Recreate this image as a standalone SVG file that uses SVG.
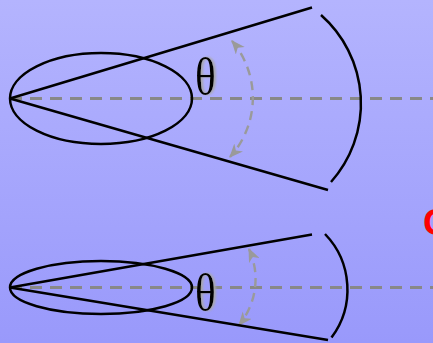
<svg xmlns="http://www.w3.org/2000/svg" width="433" height="343" viewBox="0 0 433 343">
<defs>
<linearGradient id="bg" x1="0" y1="0" x2="0" y2="1">
<stop offset="0" stop-color="#b4b4fe"/>
<stop offset="1" stop-color="#9999fb"/>
</linearGradient>
<marker id="ah" viewBox="0 0 12 10" refX="11" refY="5" markerWidth="14" markerHeight="12" markerUnits="userSpaceOnUse" orient="auto-start-reverse">
<path d="M0,0 L12,5 L0,10 L3.5,5 Z" fill="#9a9a9a"/>
</marker>
<filter id="shadow" x="-30%" y="-30%" width="160%" height="160%">
<feGaussianBlur in="SourceAlpha" stdDeviation="1.3" result="b"/>
<feOffset in="b" dx="3" dy="0" result="o"/>
<feFlood flood-color="#a8a8a8"/>
<feComposite in2="o" operator="in" result="s"/>
<feMerge><feMergeNode in="s"/><feMergeNode in="SourceGraphic"/></feMerge>
</filter>
<style>
.ln{fill:none;stroke:#000;stroke-width:2.5}
.axis{fill:none;stroke:#888;stroke-width:2.8;stroke-dasharray:12,8}
.ang{fill:none;stroke:#9a9a9a;stroke-width:2.4;stroke-dasharray:9,6}
.th{font-family:"Liberation Serif","DejaVu Serif",serif;font-size:53px;fill:#000;filter:url(#shadow)}
</style>
</defs>
<rect x="0" y="0" width="433" height="343" fill="url(#bg)"/>
<g id="connectors">
<line class="axis" x1="10" y1="98.5" x2="433" y2="98.5"/>
<line class="axis" x1="10" y1="287.5" x2="433" y2="287.5"/>
<path class="ang" d="M232 41 A88 88 0 0 1 230 157" marker-start="url(#ah)" marker-end="url(#ah)"/>
<path class="ang" d="M249 249 A72 72 0 0 1 239 325" marker-start="url(#ah)" marker-end="url(#ah)"/>
</g>
<g id="wide-lobe">
<ellipse class="ln" cx="101" cy="98.5" rx="91" ry="45.5"/>
<line class="ln" x1="10" y1="98.5" x2="312" y2="7.5"/>
<line class="ln" x1="10" y1="98.5" x2="328" y2="190"/>
<path class="ln" d="M321 15 A118 118 0 0 1 331 182"/>
<text class="th" transform="translate(195,93.5) scale(0.82,1)">θ</text>
</g>
<g id="narrow-lobe">
<ellipse class="ln" cx="101" cy="287.5" rx="91" ry="26.5"/>
<line class="ln" x1="10" y1="287.5" x2="312" y2="234.5"/>
<line class="ln" x1="10" y1="287.5" x2="328" y2="340"/>
<path class="ln" d="M325 234 A80 80 0 0 1 331.5 337.5"/>
<text class="th" transform="translate(195,310) scale(0.82,1)">θ</text>
</g>
<g id="label">
<text x="423" y="234.5" font-family="Liberation Sans, Arial, sans-serif" font-weight="bold" font-size="37" fill="#ff0000">G</text>
</g>
</svg>
